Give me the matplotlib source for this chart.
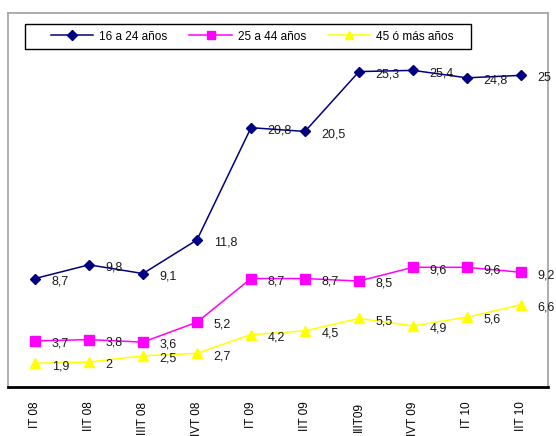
import matplotlib
matplotlib.use("Agg")
import matplotlib.pyplot as plt
from matplotlib.patches import Rectangle
import numpy as np

plt.rcParams["font.family"] = ["Liberation Sans", "DejaVu Sans"]

# ---------------------------------------------------------------------------
# Data
# ---------------------------------------------------------------------------
quarters = ["IT 08", "IIT 08", "IIIT 08", "IVT 08", "IT 09",
            "IIT 09", "IIIT09", "IVT 09", "IT 10", "IIT 10"]
joven = [8.7, 9.8, 9.1, 11.8, 20.8, 20.5, 25.3, 25.4, 24.8, 25.0]
medio = [3.7, 3.8, 3.6, 5.2, 8.7, 8.7, 8.5, 9.6, 9.6, 9.2]
mayor = [1.9, 2.0, 2.5, 2.7, 4.2, 4.5, 5.5, 4.9, 5.6, 6.6]

series = [
    ("16 a 24 años", joven, "#000080", "D", 5.5),
    ("25 a 44 años", medio, "#FF00FF", "s", 7),
    ("45 ó más años", mayor, "#FFFF00", "^", 7),
]

# ---------------------------------------------------------------------------
# Figure
# ---------------------------------------------------------------------------
W, H = 556, 436
fig = plt.figure(figsize=(W / 100, H / 100), dpi=100)
ax = fig.add_axes([8 / W, (H - 387) / H, 540 / W, 374 / H])

x = np.arange(len(quarters))


def fmt(v):
    s = f"{v:.1f}".replace(".", ",")
    return s[:-2] if s.endswith(",0") else s


handles = []
for name, vals, col, mk, ms in series:
    ln, = ax.plot(x, vals, color=col, marker=mk, markersize=ms,
                  linewidth=1.1, label=name, clip_on=False)
    handles.append(ln)
    for xi, v in zip(x, vals):
        ax.annotate(fmt(v), (xi, v), xytext=(12, -2), textcoords="offset points",
                    ha="left", va="center", fontsize=9, color="#1a1a1a")

ax.set_xlim(-0.5, len(quarters) - 0.5)
ax.set_ylim(0, 30)
ax.set_yticks([])
ax.set_xticks(x)
ax.set_xticklabels(quarters, rotation=90, fontsize=8.5, va="top", ha="center")
ax.tick_params(axis="x", length=0, pad=10.5)

for side in ("left", "right", "top"):
    ax.spines[side].set_color("#a0a0a0")
    ax.spines[side].set_linewidth(1.2)
ax.spines["bottom"].set_color("black")
ax.spines["bottom"].set_linewidth(2)

# Legend box
fig.patches.append(Rectangle((25 / W, (H - 49) / H), 446 / W, 25 / H,
                             transform=fig.transFigure, fill=False,
                             edgecolor="black", linewidth=1.0))
fig.legend(handles=handles, loc="center left",
           bbox_to_anchor=(45 / W, (H - 36.5) / H), ncol=3, frameon=False,
           fontsize=8.5, borderpad=0, handlelength=3.6, handletextpad=0.5,
           columnspacing=1.85, markerscale=0.85)

fig.savefig("out.png", dpi=100)
